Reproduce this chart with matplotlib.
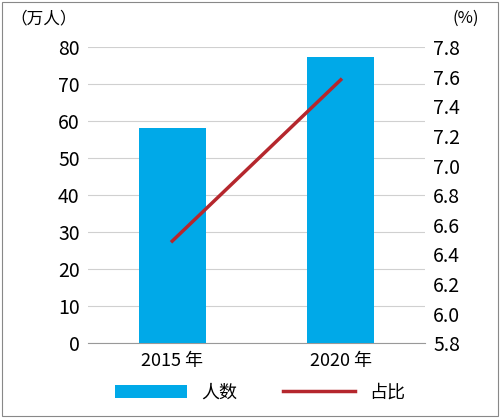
import matplotlib.pyplot as plt
from matplotlib.patches import Rectangle

plt.rcParams['font.family'] = ['Noto Sans CJK SC', 'DejaVu Sans']

years = ['2015 年', '2020 年']
people = [58.3, 77.3]   # 万人
share = [6.49, 7.58]    # %

fig = plt.figure(figsize=(5.0, 4.18), dpi=100)
ax = fig.add_axes([0.176, 0.179, 0.674, 0.708])
fig.patches.append(Rectangle((0.004, 0.004), 0.992, 0.992, transform=fig.transFigure,
                             fill=False, edgecolor='#888888', linewidth=0.8))

x = [0, 1]
ax.bar(x, people, width=0.4, color='#00A9E8', label='人数', zorder=3)
ax.set_xlim(-0.5, 1.5)
ax.set_ylim(0, 80)
ax.set_yticks(range(0, 81, 10))
ax.set_xticks(x)
ax.set_xticklabels(years, fontsize=13)
ax.grid(axis='y', color='#d0d0d0', linewidth=0.8, zorder=0)
for s in ['top', 'right', 'left']:
    ax.spines[s].set_visible(False)
ax.spines['bottom'].set_color('#999999')
ax.tick_params(axis='both', length=0, labelsize=14, pad=6)
ax.tick_params(axis='x', labelsize=13)

ax2 = ax.twinx()
ax2.plot(x, share, color='#B5272D', linewidth=2.5, label='占比', zorder=4)
ax2.set_ylim(5.8, 7.8)
ax2.set_yticks([5.8 + 0.2 * i for i in range(11)])
ax2.set_yticklabels([f'{5.8 + 0.2 * i:.1f}' for i in range(11)])
for s in ['top', 'right', 'left', 'bottom']:
    ax2.spines[s].set_visible(False)
ax2.tick_params(axis='y', length=0, labelsize=14, pad=6)

fig.text(0.02, 0.955, '（万人）', fontsize=12, va='center')
fig.text(0.905, 0.955, '(%)', fontsize=12, va='center')

h1, l1 = ax.get_legend_handles_labels()
h2, l2 = ax2.get_legend_handles_labels()
fig.legend(h1 + h2, l1 + l2, loc='lower center', bbox_to_anchor=(0.52, 0.0), ncol=2,
           frameon=False, fontsize=13, handlelength=4, columnspacing=2.5)

fig.savefig('out.png', dpi=100)
